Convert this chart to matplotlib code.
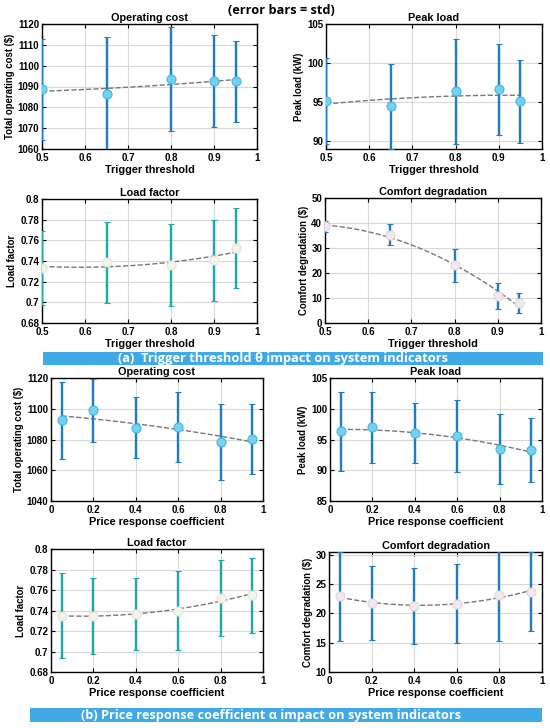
import numpy as np
import matplotlib
matplotlib.use('Agg')
import matplotlib.pyplot as plt

plt.rcParams['font.family'] = ['Liberation Sans', 'DejaVu Sans']
plt.rcParams['font.weight'] = 'bold'
plt.rcParams['axes.labelweight'] = 'bold'
plt.rcParams['axes.titleweight'] = 'bold'

# (a) trigger threshold sweep
theta = [0.5, 0.65, 0.8, 0.9, 0.95]
cost_a = [1088.6, 1086.5, 1093.5, 1092.6, 1092.4]
cost_a_std = [24.3, 27.1, 24.9, 22.0, 19.3]
peak_a = [95.1, 94.45, 96.4, 96.65, 95.1]
peak_a_std = [5.5, 5.45, 6.7, 5.8, 5.35]
lf_a = [0.7332, 0.7387, 0.7365, 0.7406, 0.7525]
lf_a_std = [0.0355, 0.0394, 0.0397, 0.0394, 0.0385]
comf_a = [38.7, 35.3, 23.1, 10.7, 8.0]
comf_a_std = [2.2, 4.2, 6.55, 5.25, 4.1]

# (b) price response coefficient sweep
alpha = [0.05, 0.2, 0.4, 0.6, 0.8, 0.95]
cost_b = [1092.4, 1098.9, 1087.6, 1088.0, 1078.5, 1080.6]
cost_b_std = [24.9, 20.6, 19.9, 22.8, 24.7, 22.8]
peak_b = [96.35, 97.0, 96.0, 95.5, 93.4, 93.3]
peak_b_std = [6.4, 5.8, 4.9, 5.85, 5.7, 5.2]
lf_b = [0.7351, 0.7345, 0.7364, 0.7400, 0.7524, 0.7550]
lf_b_std = [0.041, 0.037, 0.035, 0.039, 0.037, 0.0365]
comf_b = [22.9, 21.8, 21.2, 21.7, 23.1, 23.7]
comf_b_std = [7.6, 6.3, 6.5, 6.7, 7.75, 6.75]

W, H = 550, 728
fig = plt.figure(figsize=(W / 100, H / 100), dpi=100)

BLUE = '#1f7cc2'
TEAL = '#1fa8a4'
BANNER = '#41aae6'


def px_axes(l, r, t, b):
    return fig.add_axes([l / W, 1 - b / H, (r - l) / W, (b - t) / H])


def panel(rect, x, y, err, title, ylabel, xlabel, ylim, yticks, xticks,
          barc, mfc, mec):
    ax = px_axes(*rect)
    ax.grid(True, color='#d9d9d9', linewidth=0.8)
    ax.set_axisbelow(True)
    coef = np.polyfit(x, y, 2)
    xs = np.linspace(min(x), max(x), 100)
    ax.plot(xs, np.polyval(coef, xs), '--', color='#777777', lw=1.0, zorder=2)
    ax.errorbar(x, y, yerr=err, fmt='o', color=barc, ecolor=barc,
                elinewidth=1.7, capsize=2.5, capthick=1.3,
                markersize=6.5, markerfacecolor=mfc, markeredgecolor=mec,
                markeredgewidth=0.8, zorder=3)
    ax.set_xlim(xticks[0], 1)
    ax.set_ylim(*ylim)
    ax.set_xticks(xticks)
    ax.set_xticklabels(['%g' % v for v in xticks])
    ax.set_yticks(yticks)
    ax.set_yticklabels(['%g' % v for v in yticks])
    ax.tick_params(direction='in', labelsize=7, length=3, pad=2,
                   top=True, right=True)
    ax.tick_params(axis='x', pad=3)
    for s in ax.spines.values():
        s.set_linewidth(1.0)
    ax.set_title(title, fontsize=7.8, pad=2)
    ax.set_ylabel(ylabel, fontsize=6.9, labelpad=2)
    ax.set_xlabel(xlabel, fontsize=7.8, labelpad=1)
    return ax


xa = [0.5, 0.6, 0.7, 0.8, 0.9, 1.0]
xb = [0, 0.2, 0.4, 0.6, 0.8, 1.0]
cyan_f, cyan_e = '#72d2f2', '#45b5e0'
white_f, white_e = '#f4f4ee', '#e4e4dc'
pink_f, pink_e = '#f2e8ee', '#e2d6dc'

panel((42, 257, 24, 149), theta, cost_a, cost_a_std, 'Operating cost',
      'Total operating cost ($)', 'Trigger threshold', (1060, 1120),
      range(1060, 1121, 10), xa, BLUE, cyan_f, cyan_e)
panel((326, 542, 24, 149), theta, peak_a, peak_a_std, 'Peak load',
      'Peak load (kW)', 'Trigger threshold', (89, 105),
      [90, 95, 100, 105], xa, BLUE, cyan_f, cyan_e)
panel((42, 257, 199, 323), theta, lf_a, lf_a_std, 'Load factor',
      'Load factor', 'Trigger threshold', (0.68, 0.8),
      [0.68, 0.7, 0.72, 0.74, 0.76, 0.78, 0.8], xa, TEAL, white_f, white_e)
panel((325, 541, 198, 323), theta, comf_a, comf_a_std, 'Comfort degradation',
      'Comfort degradation ($)', 'Trigger threshold', (0, 50),
      range(0, 51, 10), xa, BLUE, pink_f, pink_e)

panel((51, 263, 378, 501), alpha, cost_b, cost_b_std, 'Operating cost',
      'Total operating cost ($)', 'Price response coefficient', (1040, 1120),
      range(1040, 1121, 20), xb, BLUE, cyan_f, cyan_e)
panel((330, 542, 378, 501), alpha, peak_b, peak_b_std, 'Peak load',
      'Peak load (kW)', 'Price response coefficient', (85, 105),
      range(85, 106, 5), xb, BLUE, cyan_f, cyan_e)
panel((51, 263, 549, 672), alpha, lf_b, lf_b_std, 'Load factor',
      'Load factor', 'Price response coefficient', (0.68, 0.8),
      [0.68, 0.7, 0.72, 0.74, 0.76, 0.78, 0.8], xb, TEAL, white_f, white_e)
panel((329, 542, 552, 672), alpha, comf_b, comf_b_std, 'Comfort degradation',
      'Comfort degradation ($)', 'Price response coefficient', (10, 30.5),
      range(10, 31, 5), xb, BLUE, pink_f, pink_e)

# banners
def banner(l, r, t, b, text, tx, size):
    bx = fig.add_axes([l / W, 1 - b / H, (r - l) / W, (b - t) / H])
    bx.set_facecolor(BANNER)
    bx.set_xticks([])
    bx.set_yticks([])
    for s in bx.spines.values():
        s.set_visible(False)
    fig.text(tx / W, 1 - (t + b) / 2 / H, text, color='white', fontsize=size,
             fontweight='bold', family=['Open Sans', 'DejaVu Sans'],
             ha='center', va='center')

banner(43, 543, 352, 365,
       '(a)  Trigger threshold \u03b8 impact on system indicators', 283, 9.3)
banner(30, 542, 708, 722,
       '(b) Price response coefficient \u03b1 impact on system indicators', 271, 9.2)

fig.text(281 / W, 1 - 10 / H, '(error bars = std)', ha='center', va='center',
         fontsize=9.2, fontweight='bold', family=['Open Sans', 'DejaVu Sans'])

fig.savefig('out.png', dpi=100, facecolor='white')
